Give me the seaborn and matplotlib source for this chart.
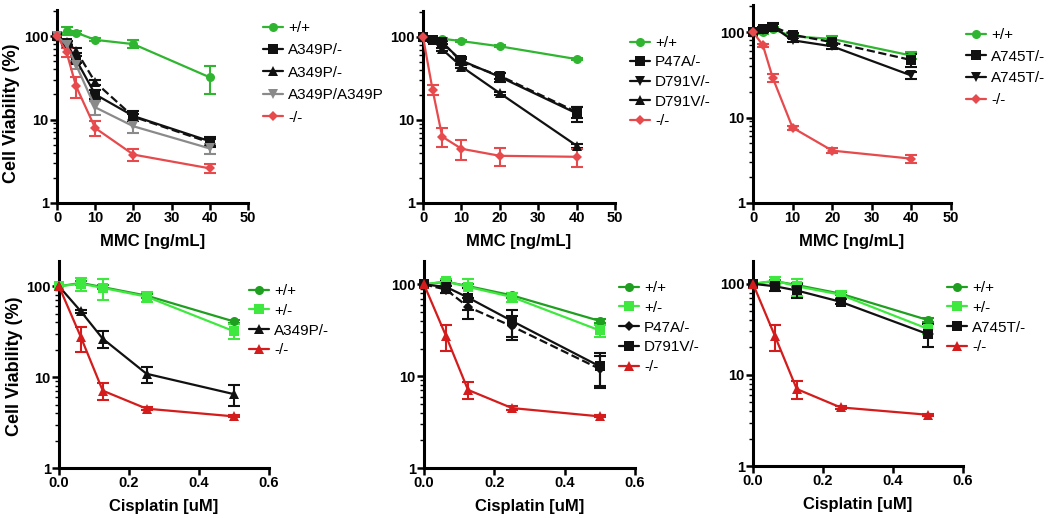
import numpy as np
import pandas as pd
import matplotlib
matplotlib.use("Agg")
import matplotlib.pyplot as plt
import seaborn as sns
from matplotlib.ticker import LogLocator, NullFormatter, FixedLocator, FixedFormatter

sns.set_theme(style="ticks")
plt.rcParams["font.family"] = ["Liberation Sans", "DejaVu Sans"]
plt.rcParams["text.color"] = "black"
plt.rcParams["axes.labelcolor"] = "black"
plt.rcParams["xtick.color"] = "black"
plt.rcParams["ytick.color"] = "black"

# ---------------- data ----------------
x_mmc = [0, 2.5, 5, 10, 20, 40]
x_cis = [0, 0.0625, 0.125, 0.25, 0.5]

# Panel 1 (MMC, A349P)
p1_wt = [100, 116, 110, 90, 80, 32]
p1_wt_sd = [0, 12, 4, 4, 9, 12]
p1_a349p_a = [100, 82, 52, 20, 11, 5.5]
p1_a349p_a_sd = [0, 4, 5, 2.5, 1.5, 0.6]
p1_a349p_b = [100, 85, 67, 28, 10.8, 5.3]
p1_a349p_b_sd = [0, 3, 4, 2, 1, 0.6]
p1_a349p_hom = [100, 78, 45, 14, 8.3, 4.5]
p1_a349p_hom_sd = [0, 4, 5, 2.8, 1.5, 0.6]
p1_ko = [100, 64, 25, 7.9, 3.8, 2.6]
p1_ko_sd = [0, 8, 7, 1.6, 0.6, 0.3]

# Panel 2 (MMC, P47A / D791V)
p2_wt = [100, 95, 95, 89, 77, 54]
p2_wt_sd = [0, 2, 2, 2, 2, 2]
p2_p47a = [100, 91, 85, 52, 33, 12]
p2_p47a_sd = [0, 3, 4, 5, 4, 2.5]
p2_d791v_a = [100, 91, 87, 50, 34, 12.5]
p2_d791v_a_sd = [0, 3, 4, 4, 3, 2]
p2_d791v_b = [100, 91, 71, 44, 21, 4.9]
p2_d791v_b_sd = [0, 3, 3, 2, 1, 0.3]
p2_ko = [100, 23, 6.3, 4.5, 3.7, 3.6]
p2_ko_sd = [0, 3, 1.6, 1.2, 0.9, 0.9]

# Panel 3 (MMC, A745T)
p3_wt = [100, 99, 108, 89, 83, 53]
p3_wt_sd = [0, 3, 5, 3, 8, 5]
p3_a745t_a = [100, 109, 116, 93, 76, 47]
p3_a745t_a_sd = [0, 5, 8, 5, 5, 8]
p3_a745t_b = [100, 106, 116, 80, 68, 31]
p3_a745t_b_sd = [0, 5, 10, 4, 4, 3]
p3_ko = [100, 70, 29, 7.6, 4.1, 3.3]
p3_ko_sd = [0, 3, 3, 0.4, 0.3, 0.35]

# Panel 4 (Cisplatin, A349P)
p4_wt = [100, 109, 98, 79, 41]
p4_wt_sd = [0, 5, 5, 4, 2]
p4_het = [100, 107, 96, 77, 32]
p4_het_sd = [0, 18, 25, 10, 6]
p4_a349p = [100, 53, 26.5, 10.9, 6.5]
p4_a349p_sd = [0, 2, 5.5, 2.2, 1.7]
p4_ko = [100, 27.6, 7.1, 4.5, 3.7]
p4_ko_sd = [0, 8.5, 1.5, 0.2, 0.1]

# Panel 5 (Cisplatin, P47A / D791V)
p5_wt = [100, 107, 96, 76, 40]
p5_wt_sd = [0, 4, 4, 4, 2]
p5_het = [100, 108, 94, 73, 31.5]
p5_het_sd = [0, 8, 22, 8, 5]
p5_p47a = [100, 88, 57, 35, 12]
p5_p47a_sd = [0, 8, 15, 10, 4.5]
p5_d791v = [100, 94, 72, 40, 12.8]
p5_d791v_sd = [0, 14, 20, 13, 5]
p5_ko = [100, 27.5, 7.1, 4.5, 3.65]
p5_ko_sd = [0, 8.5, 1.5, 0.2, 0.1]

# Panel 6 (Cisplatin, A745T)
p6_wt = [100, 107, 97, 78, 40]
p6_wt_sd = [0, 4, 4, 3, 2]
p6_het = [100, 108, 94, 76, 32]
p6_het_sd = [0, 10, 20, 7, 4]
p6_a745t = [100, 94, 84.5, 63.5, 28]
p6_a745t_sd = [0, 11, 14, 4, 8]
p6_ko = [100, 26.8, 7, 4.4, 3.65]
p6_ko_sd = [0, 8.5, 1.5, 0.2, 0.1]

# ---------------- styles ----------------
GREEN = "#2fb52f"
DGREEN = "#1f9f1f"
LGREEN = "#3fe83f"
RED_T = "#e64a4d"
RED_B = "#d41c1c"
BLACK = "#111111"
GRAY = "#8a8a8a"

panels = [
    dict(x=x_mmc, rect=(57, 248, 10, 203), ytop=205, xlim=(0, 50), xticks=[0, 10, 20, 30, 40, 50],
         xfmt="{:.0f}", xlabel="MMC [ng/mL]", ylabel=(11, 113), leg=(263, 21), legsp=0.55,
         series=[("+/+", p1_wt, p1_wt_sd, GREEN, "o", "-"),
                 ("A349P/-", p1_a349p_a, p1_a349p_a_sd, BLACK, "s", "-"),
                 ("A349P/-", p1_a349p_b, p1_a349p_b_sd, BLACK, "^", "--"),
                 ("A349P/A349P", p1_a349p_hom, p1_a349p_hom_sd, GRAY, "v", "-"),
                 ("-/-", p1_ko, p1_ko_sd, RED_T, "D", "-")]),
    dict(x=x_mmc, rect=(423, 615, 11, 203), ytop=205, xlim=(0, 50), xticks=[0, 10, 20, 30, 40, 50],
         xfmt="{:.0f}", xlabel="MMC [ng/mL]", ylabel=None, leg=(630, 36), legsp=0.36,
         series=[("+/+", p2_wt, p2_wt_sd, GREEN, "o", "-"),
                 ("P47A/-", p2_p47a, p2_p47a_sd, BLACK, "s", "-"),
                 ("D791V/-", p2_d791v_a, p2_d791v_a_sd, BLACK, "v", "--"),
                 ("D791V/-", p2_d791v_b, p2_d791v_b_sd, BLACK, "^", "-"),
                 ("-/-", p2_ko, p2_ko_sd, RED_T, "D", "-")]),
    dict(x=x_mmc, rect=(753, 951, 5, 203), ytop=207, xlim=(0, 50), xticks=[0, 10, 20, 30, 40, 50],
         xfmt="{:.0f}", xlabel="MMC [ng/mL]", ylabel=None, leg=(966, 28), legsp=0.50,
         series=[("+/+", p3_wt, p3_wt_sd, GREEN, "o", "-"),
                 ("A745T/-", p3_a745t_a, p3_a745t_a_sd, BLACK, "s", "--"),
                 ("A745T/-", p3_a745t_b, p3_a745t_b_sd, BLACK, "v", "-"),
                 ("-/-", p3_ko, p3_ko_sd, RED_T, "D", "-")]),
    dict(x=x_cis, rect=(59, 269, 261, 468), ytop=190, xlim=(0, 0.6), xticks=[0, 0.2, 0.4, 0.6],
         xfmt="{:.1f}", xlabel="Cisplatin [uM]", ylabel=(15, 366), leg=(249, 284), legsp=0.38,
         series=[("+/+", p4_wt, p4_wt_sd, DGREEN, "o", "-"),
                 ("+/-", p4_het, p4_het_sd, LGREEN, "s", "-"),
                 ("A349P/-", p4_a349p, p4_a349p_sd, BLACK, "^", "-"),
                 ("-/-", p4_ko, p4_ko_sd, RED_B, "^", "-")]),
    dict(x=x_cis, rect=(424, 635, 261, 468), ytop=180, xlim=(0, 0.6), xticks=[0, 0.2, 0.4, 0.6],
         xfmt="{:.1f}", xlabel="Cisplatin [uM]", ylabel=None, leg=(619, 281), legsp=0.38,
         series=[("+/+", p5_wt, p5_wt_sd, DGREEN, "o", "-"),
                 ("+/-", p5_het, p5_het_sd, LGREEN, "s", "-"),
                 ("P47A/-", p5_p47a, p5_p47a_sd, BLACK, "D", "--"),
                 ("D791V/-", p5_d791v, p5_d791v_sd, BLACK, "s", "-"),
                 ("-/-", p5_ko, p5_ko_sd, RED_B, "^", "-")]),
    dict(x=x_cis, rect=(753, 963, 261, 466), ytop=178, xlim=(0, 0.6), xticks=[0, 0.2, 0.4, 0.6],
         xfmt="{:.1f}", xlabel="Cisplatin [uM]", ylabel=None, leg=(947, 281), legsp=0.38,
         series=[("+/+", p6_wt, p6_wt_sd, DGREEN, "o", "-"),
                 ("+/-", p6_het, p6_het_sd, LGREEN, "s", "-"),
                 ("A745T/-", p6_a745t, p6_a745t_sd, BLACK, "s", "-"),
                 ("-/-", p6_ko, p6_ko_sd, RED_B, "^", "-")]),
]

W, H = 1050, 518
fig = plt.figure(figsize=(W / 100, H / 100), dpi=100)

for p in panels:
    l, r, t, b = p["rect"]
    ax = fig.add_axes([l / W, 1 - b / H, (r - l) / W, (b - t) / H])
    handles = []
    for label, y, sd, color, marker, ls in p["series"]:
        df = pd.DataFrame({"x": p["x"], "y": y})
        ms = 6.5 if marker not in ("D",) else 5.5
        sns.lineplot(data=df, x="x", y="y", ax=ax, color=color, marker=marker,
                     linestyle=ls, linewidth=1.6, markersize=ms, markeredgewidth=0,
                     errorbar=None, legend=False, clip_on=False, zorder=3)
        sd = np.asarray(sd, dtype=float)
        m = sd > 0
        ax.errorbar(np.asarray(p["x"])[m], np.asarray(y)[m], yerr=sd[m], fmt="none",
                    ecolor=color, elinewidth=1.5, capsize=4, capthick=1.5, zorder=2,
                    clip_on=False)
        handles.append(plt.Line2D([], [], color=color, marker=marker, linestyle="-",
                                  linewidth=1.6, markersize=ms, markeredgewidth=0))
    ax.set_yscale("log")
    ax.set_ylim(1, p["ytop"])
    ax.set_xlim(*p["xlim"])
    ax.yaxis.set_major_locator(FixedLocator([1, 10, 100]))
    ax.yaxis.set_major_formatter(FixedFormatter(["1", "10", "100"]))
    ax.yaxis.set_minor_locator(LogLocator(base=10, subs=np.arange(2, 10)))
    ax.yaxis.set_minor_formatter(NullFormatter())
    ax.set_xticks(p["xticks"])
    ax.set_xticklabels([p["xfmt"].format(v) for v in p["xticks"]])
    for s in ("top", "right"):
        ax.spines[s].set_visible(False)
    for s in ("left", "bottom"):
        ax.spines[s].set_linewidth(2.2)
        ax.spines[s].set_color("black")
    ax.tick_params(axis="both", which="major", direction="out", length=5, width=1.8,
                   color="black", labelcolor="black", labelsize=10.5, pad=1)
    ax.tick_params(axis="y", which="minor", direction="out", length=3, width=1.0, color="black")
    for lab in ax.get_xticklabels() + ax.get_yticklabels():
        lab.set_fontweight("bold")
    ax.set_xlabel(p["xlabel"], fontsize=12, fontweight="bold", labelpad=6)
    if p["ylabel"] is not None:
        ax.set_ylabel("Cell Viability (%)", fontsize=13, fontweight="bold")
        ax.yaxis.label.set_va("center")
        cx, cy = p["ylabel"]
        ax.yaxis.set_label_coords((cx - l) / (r - l), 1 - (cy - t) / (b - t))
    else:
        ax.set_ylabel("")
    ax.grid(False)
    lx, ly = p["leg"]
    ax.legend(handles=handles, labels=[s[0] for s in p["series"]], loc="upper left",
              bbox_to_anchor=(lx / W, 1 - ly / H), bbox_transform=fig.transFigure,
              frameon=False, fontsize=11, handlelength=1.3, handletextpad=0.35,
              labelspacing=p["legsp"], borderpad=0, borderaxespad=0)

fig.savefig("out.png", dpi=100)
